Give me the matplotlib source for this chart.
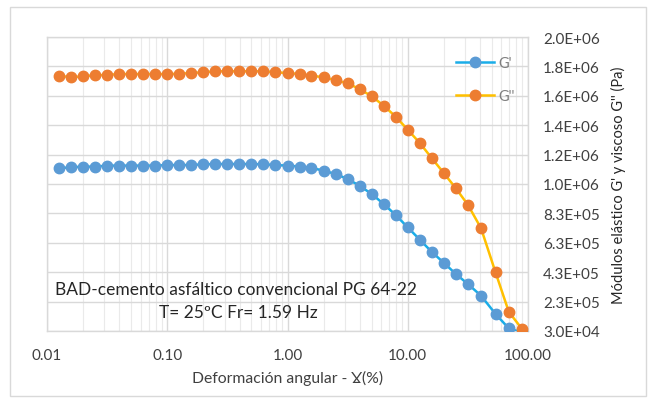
import numpy as np
import matplotlib
matplotlib.use("Agg")
import matplotlib.pyplot as plt
from matplotlib.ticker import FixedLocator, FuncFormatter, LogLocator, NullFormatter
from matplotlib.patches import Rectangle

plt.rcParams['font.family'] = ['Lato', 'DejaVu Sans']

# Deformación angular (%)
strain = [0.0126, 0.0158, 0.0200, 0.0251, 0.0316, 0.0398, 0.0501, 0.0631, 0.0794,
          0.100, 0.126, 0.158, 0.200, 0.251, 0.316, 0.398, 0.501, 0.631, 0.794,
          1.00, 1.26, 1.58, 2.00, 2.51, 3.16, 3.98, 5.01, 6.31, 7.94,
          10.0, 12.6, 15.8, 20.0, 25.1, 31.6, 40.7, 53.7, 69.2, 89.1]

# Módulo elástico G' (Pa)
g_elastic = [1.137e6, 1.144e6, 1.148e6, 1.148e6, 1.155e6, 1.155e6, 1.155e6, 1.155e6, 1.155e6,
             1.159e6, 1.159e6, 1.159e6, 1.164e6, 1.166e6, 1.166e6, 1.166e6, 1.166e6, 1.164e6, 1.159e6,
             1.155e6, 1.149e6, 1.139e6, 1.121e6, 1.098e6, 1.064e6, 1.018e6, 0.962e6, 0.894e6, 0.819e6,
             0.735e6, 0.651e6, 0.569e6, 0.493e6, 0.418e6, 0.350e6, 0.270e6, 0.146e6, 0.048e6, 0.020e6]

# Módulo viscoso G'' (Pa)
g_viscous = [1.767e6, 1.756e6, 1.763e6, 1.770e6, 1.772e6, 1.778e6, 1.778e6, 1.778e6, 1.778e6,
             1.778e6, 1.780e6, 1.785e6, 1.790e6, 1.797e6, 1.797e6, 1.797e6, 1.797e6, 1.797e6, 1.790e6,
             1.785e6, 1.778e6, 1.767e6, 1.756e6, 1.736e6, 1.715e6, 1.676e6, 1.627e6, 1.563e6, 1.488e6,
             1.399e6, 1.309e6, 1.207e6, 1.103e6, 1.001e6, 0.889e6, 0.729e6, 0.429e6, 0.161e6, 0.044e6]

y_ticks = [3.0e4, 2.3e5, 4.3e5, 6.3e5, 8.3e5, 1.03e6, 1.23e6, 1.43e6, 1.63e6, 1.83e6, 2.03e6]
x_ticks = [0.01, 0.1, 1, 10, 100]
x_ticklabels = ['0.01', '0.10', '1.00', '10.00', '100.00']

fig = plt.figure(figsize=(6.54, 4.06), dpi=100)
ax = fig.add_axes([47 / 654, 1 - 332 / 406, 481 / 654, 294 / 406])

# marco exterior del gráfico
fig.patches.append(Rectangle((10 / 654, 1 - 397 / 406), 636 / 654, 389 / 406,
                             transform=fig.transFigure, fill=False,
                             edgecolor='#D9D9D9', linewidth=1.0))

ax.plot(strain, g_elastic, color='#1AADE8', linewidth=1.8, marker='o',
        markersize=7.5, markerfacecolor='#5B9BD5', markeredgecolor='#5B9BD5',
        label="G'", zorder=3)
ax.plot(strain, g_viscous, color='#FFC000', linewidth=1.8, marker='o',
        markersize=7.5, markerfacecolor='#ED7D31', markeredgecolor='#ED7D31',
        label="G''", zorder=3)

ax.set_xscale('log')
ax.set_xlim(0.01, 100)
ax.set_ylim(3.0e4, 2.03e6)

ax.xaxis.set_major_locator(FixedLocator(x_ticks))
ax.set_xticklabels(x_ticklabels)
ax.xaxis.set_minor_locator(LogLocator(base=10, subs=np.arange(2, 10)))
ax.xaxis.set_minor_formatter(NullFormatter())
ax.yaxis.set_major_locator(FixedLocator(y_ticks))
ax.yaxis.set_major_formatter(FuncFormatter(lambda v, p: f"{v:.1E}"))

ax.yaxis.tick_right()
ax.yaxis.set_label_position('right')
ax.tick_params(axis='both', which='both', length=0, labelsize=11, labelcolor='#404040')
ax.tick_params(axis='y', pad=11)
ax.tick_params(axis='x', pad=12)

ax.grid(True, which='major', color='#D9D9D9', linewidth=1.0)
ax.grid(True, which='minor', axis='x', color='#EAEAEA', linewidth=0.8)
ax.set_axisbelow(True)
for s in ax.spines.values():
    s.set_color('#D9D9D9')
    s.set_linewidth(1.0)

ax.set_xlabel('Deformación angular - Ɣ(%)', fontsize=11.3, color='#404040', labelpad=6)
ax.set_ylabel("Módulos elástico G' y viscoso G'' (Pa)", fontsize=10.5, color='#262626',
              labelpad=8)

leg = ax.legend(loc='upper right', bbox_to_anchor=(1.0, 0.98), frameon=False,
                fontsize=10.5, handlelength=2.6, labelspacing=1.3, handletextpad=0.3,
                labelcolor='#7F7F7F')

ax.text(55 / 654, 1 - 290 / 406, 'BAD-cemento asfáltico convencional PG 64-22',
        transform=fig.transFigure, fontsize=12.5, color='#262626', va='center', ha='left')
ax.text(238 / 654, 1 - 313 / 406, 'T= 25ºC Fr= 1.59 Hz',
        transform=fig.transFigure, fontsize=12.5, color='#262626', va='center', ha='center')

fig.savefig('out.png', dpi=100)
